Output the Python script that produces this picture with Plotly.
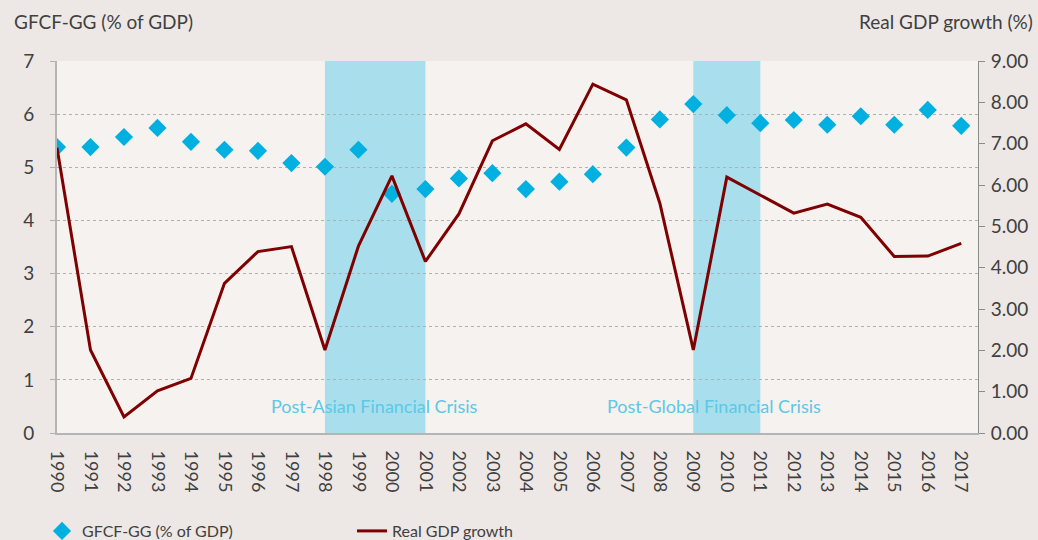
import plotly.graph_objects as go

years = list(range(1990, 2018))
year_labels = [str(y) for y in years]
gfcf_gg = [5.38, 5.38, 5.57, 5.74, 5.48, 5.33, 5.31, 5.08, 5.01, 5.33,
           4.50, 4.59, 4.79, 4.89, 4.59, 4.73, 4.87, 5.37, 5.90, 6.19,
           5.98, 5.83, 5.89, 5.80, 5.96, 5.80, 6.08, 5.78]
gdp_growth = [6.90, 2.01, 0.39, 1.02, 1.32, 3.62, 4.39, 4.51, 2.01, 4.52,
              6.22, 4.15, 5.30, 7.07, 7.48, 6.86, 8.44, 8.06, 5.56, 2.01,
              6.19, 5.76, 5.32, 5.54, 5.22, 4.27, 4.28, 4.59]
crisis_periods = [(1998, 2001, "Post-Asian Financial Crisis", 1999.49),
                  (2009, 2011, "Post-Global Financial Crisis", 2009.63)]
left_ticks = list(range(0, 8))
right_ticks = list(range(0, 10))

FONT = "Lato"
TXT = "#404040"

fig = go.Figure()
fig.add_trace(go.Scatter(
    x=years, y=gfcf_gg, mode="markers", name="GFCF-GG (% of GDP)",
    marker=dict(symbol="diamond", size=14, color="#00b0e0"),
    yaxis="y"))
fig.add_trace(go.Scatter(
    x=years, y=gdp_growth, mode="lines", name="Real GDP growth",
    line=dict(color="#7f0000", width=3),
    yaxis="y2"))

for x0, x1, label, xc in crisis_periods:
    fig.add_shape(type="rect", xref="x", yref="paper", x0=x0, x1=x1, y0=0, y1=1,
                  fillcolor="#a9dfec", line=dict(width=0), layer="between")
    fig.add_annotation(x=xc, y=0.51, xref="x", yref="y", text=label, showarrow=False,
                       font=dict(family=FONT, size=18, color="#5cc8e6"))

fig.add_annotation(x=-0.0489, y=1.105, xref="paper", yref="paper", text="GFCF-GG (% of GDP)",
                   showarrow=False, xanchor="left", yanchor="middle",
                   font=dict(family=FONT, size=19, color=TXT))
fig.add_annotation(x=1.062, y=1.105, xref="paper", yref="paper", text="Real GDP growth (%)",
                   showarrow=False, xanchor="right", yanchor="middle",
                   font=dict(family=FONT, size=19, color=TXT))

fig.update_layout(
    width=1038, height=540,
    margin=dict(l=57, r=60, t=61, b=107, autoexpand=False),
    paper_bgcolor="#ede8e5", plot_bgcolor="#f5f2ef",
    font=dict(family=FONT, color=TXT),
    showlegend=True,
    legend=dict(orientation="h", xref="container", yref="container",
                x=42 / 1038, y=(540 - 531) / 540, xanchor="left", yanchor="middle",
                font=dict(family=FONT, size=16, color=TXT),
                entrywidth=265, entrywidthmode="pixels",
                bgcolor="rgba(0,0,0,0)"),
    xaxis=dict(range=[1990, 2017.5], tickmode="array", tickvals=years,
               ticktext=year_labels, tickangle=90, showgrid=False,
               showline=True, linecolor="#b5b5b5", linewidth=2,
               ticks="", ticklabelstandoff=12, automargin=False,
               tickfont=dict(family=FONT, size=18, color=TXT), zeroline=False),
    yaxis=dict(range=[0, 7], tickvals=left_ticks, showgrid=True,
               gridcolor="#b0b0b0", griddash="dot", gridwidth=1,
               showline=True, linecolor="#b5b5b5", linewidth=2,
               ticks="outside", ticklen=5, tickcolor="#b0b0b0", automargin=False,
               tickfont=dict(family=FONT, size=19, color=TXT), zeroline=False,
               ticklabelstandoff=12),
    yaxis2=dict(range=[0, 9], tickvals=right_ticks, overlaying="y", side="right",
                tickformat=".2f", showgrid=False, showline=True,
                linecolor="#8c8c8c", linewidth=1, ticks="outside", ticklen=6,
                tickcolor="#8c8c8c", automargin=False,
                tickfont=dict(family=FONT, size=19, color=TXT), zeroline=False,
                ticklabelstandoff=2),
)

fig.write_html("out.html", config={"displayModeBar": False},
               post_script="document.body.style.margin='0';")
